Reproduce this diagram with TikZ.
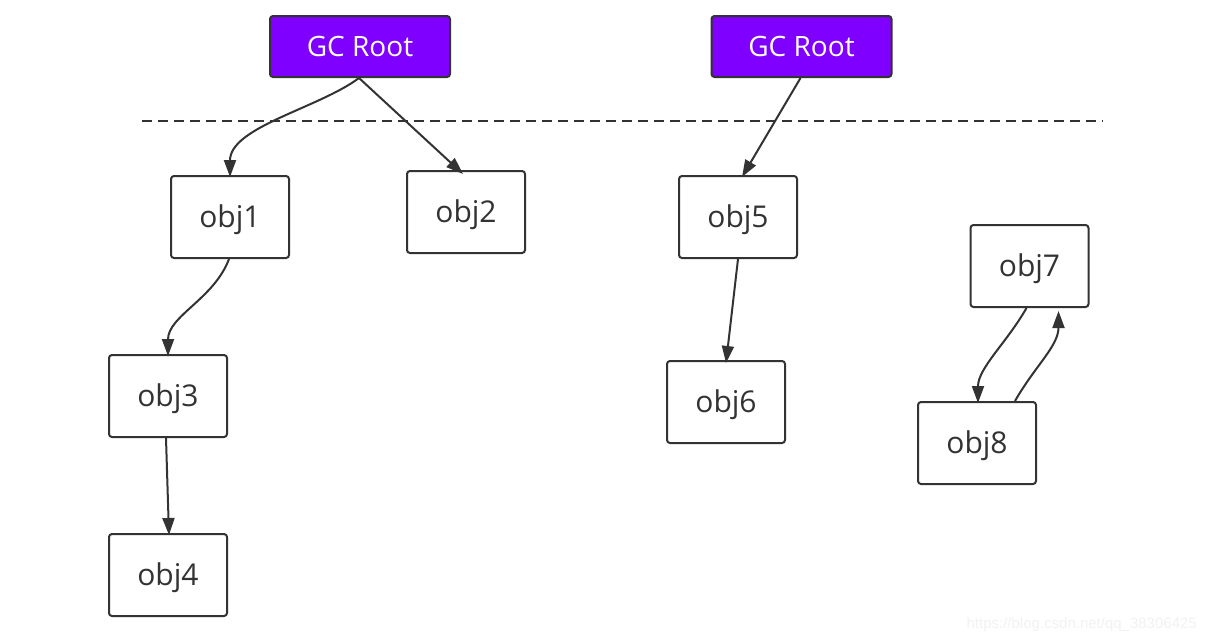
\documentclass[tikz,border=0pt]{standalone}
\usepackage{fontspec}
\setmainfont{Open Sans}
\newfontfamily\wmfont{Liberation Sans}
\usetikzlibrary{arrows.meta}
\definecolor{gcpurple}{RGB}{127,0,255}
\definecolor{edge}{RGB}{51,51,51}
\definecolor{txt}{RGB}{51,51,51}
\begin{document}
\begin{tikzpicture}[x=1pt,y=-1pt,
  objbox/.style={draw=edge,line width=2pt,rounded corners=3pt,fill=white,
    minimum width=118pt,minimum height=82pt,inner sep=0pt,
    text height=27pt,text depth=7pt,
    font=\fontsize{30}{33}\selectfont,text=txt},
  rootbox/.style={draw=edge,line width=2pt,rounded corners=3pt,fill=gcpurple,
    minimum width=180pt,minimum height=61pt,inner sep=0pt,
    font=\fontsize{28}{31}\selectfont,text=white},
  conn/.style={draw=edge,line width=2pt,-{Triangle[length=17pt,width=12pt]}}]
\useasboundingbox (0,0) rectangle (1207,643);
\fill[white] (0,0) rectangle (1207,643);
\node[rootbox] (r1) at (360,46.5) {GC Root};
\node[rootbox] (r2) at (801.5,46.5) {GC Root};
\coordinate (dl) at (142,121);
\coordinate (dr) at (1103,121);
\draw[edge,line width=2pt,dash pattern=on 10pt off 6pt] (dl) -- (dr);
\node[objbox] (o1) at (230,217) {obj1};
\node[objbox] (o2) at (466,212) {obj2};
\node[objbox] (o5) at (738,217) {obj5};
\node[objbox] (o7) at (1029.5,266) {obj7};
\node[objbox] (o3) at (168,396) {obj3};
\node[objbox] (o6) at (726,402) {obj6};
\node[objbox] (o8) at (977,443) {obj8};
\node[objbox] (o4) at (168,575) {obj4};
\draw[conn] ([xshift=-1pt]r1.south) .. controls +(-40,30) and +(0,-50) .. ([yshift=-2pt]o1.north);
\draw[conn] ([xshift=-1pt]r1.south) -- ([xshift=-3pt,yshift=-4pt]o2.north east -| 466,171) ;
\draw[conn] ([xshift=-1pt]r2.south) -- ([xshift=4pt,yshift=-2pt]o5.north);
\draw[conn] ([xshift=-1pt]o1.south) .. controls +(-15,40) and +(0,-40) .. ([yshift=-2pt]o3.north);
\draw[conn] ([xshift=-2pt]o3.south) -- ([xshift=1pt,yshift=-2pt]o4.north);
\draw[conn] (o5.south) -- ([yshift=-3pt]o6.north);
\draw[conn] ([xshift=-3pt]o7.south) .. controls +(-20,35) and +(0,-35) .. ([xshift=1pt,yshift=-2pt]o8.north);
\draw[conn] ([xshift=38pt]o8.north) .. controls +(20,-35) and +(0,35) .. ([xshift=29pt,yshift=-3pt]o7.south);
\node[font=\wmfont\fontsize{15}{18}\selectfont,text=black!5,anchor=east,inner sep=0pt] (wm) at (1197,625) {https://blog.csdn.net/qq\_38306425};
\end{tikzpicture}
\end{document}
